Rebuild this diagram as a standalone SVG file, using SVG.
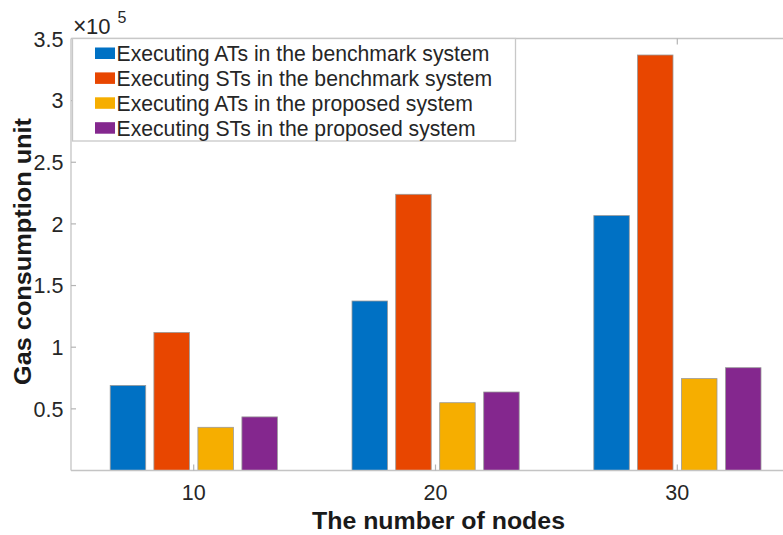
<svg xmlns="http://www.w3.org/2000/svg" width="783" height="535" viewBox="0 0 783 535">
  <style>
    .axis { stroke: #c4c4c4; stroke-width: 1.3; fill: none; }
    .tick { stroke: #b4b4b4; stroke-width: 1.2; }
    .lbl { font-family: "Liberation Sans", Arial, Helvetica, sans-serif; fill: #262626; }
    .ytl { font-size: 21.5px; text-anchor: end; }
    .xtl { font-size: 21.5px; text-anchor: middle; }
    .ttl { font-size: 24px; font-weight: bold; fill: #1a1a1a; }
    .leg { font-size: 21.2px; }
    .bar { stroke: #9a9a9a; stroke-width: 0.8; }
    .s1 { fill: #0071c4; }
    .s2 { fill: #e84600; }
    .s3 { fill: #f6ae00; }
    .s4 { fill: #84278e; }
  </style>
  <rect width="783" height="535" fill="#ffffff"/>

  <!-- bars: groups at x = 193.7, 435.5, 677.3; y(v) = 470.5 - 123.3 v -->
  <g id="bars">
    <g id="group-10">
      <rect class="bar s1" x="110.2" y="385.4" width="35.5" height="85.1"/>
      <rect class="bar s2" x="153.9" y="332.4" width="35.5" height="138.1"/>
      <rect class="bar s3" x="197.9" y="427.3" width="35.5" height="43.2"/>
      <rect class="bar s4" x="241.9" y="416.9" width="35.5" height="53.6"/>
    </g>
    <g id="group-20">
      <rect class="bar s1" x="352.0" y="301.0" width="35.5" height="169.5"/>
      <rect class="bar s2" x="395.7" y="194.3" width="35.5" height="276.2"/>
      <rect class="bar s3" x="439.7" y="402.7" width="35.5" height="67.8"/>
      <rect class="bar s4" x="483.7" y="392.0" width="35.5" height="78.5"/>
    </g>
    <g id="group-30">
      <rect class="bar s1" x="593.8" y="215.6" width="35.5" height="254.9"/>
      <rect class="bar s2" x="637.5" y="55.0" width="35.5" height="415.5"/>
      <rect class="bar s3" x="681.5" y="378.6" width="35.5" height="91.9"/>
      <rect class="bar s4" x="725.5" y="367.7" width="35.5" height="102.8"/>
    </g>
  </g>

  <!-- axes frame and ticks -->
  <g id="axes">
    <line class="axis" x1="71" y1="38.5" x2="783" y2="38.5"/>
    <line class="axis" x1="71" y1="470.5" x2="783" y2="470.5"/>
    <line class="axis" x1="71" y1="38.5" x2="71" y2="470.5"/>
    <g class="tick">
      <line x1="71" y1="408.85" x2="76" y2="408.85"/>
      <line x1="71" y1="347.2" x2="76" y2="347.2"/>
      <line x1="71" y1="285.55" x2="76" y2="285.55"/>
      <line x1="71" y1="223.9" x2="76" y2="223.9"/>
      <line x1="71" y1="162.25" x2="76" y2="162.25"/>
      <line x1="71" y1="100.6" x2="76" y2="100.6"/>
      <line x1="193.7" y1="470.5" x2="193.7" y2="464.5"/>
      <line x1="435.5" y1="470.5" x2="435.5" y2="464.5"/>
      <line x1="677.3" y1="470.5" x2="677.3" y2="464.5"/>
      <line x1="193.7" y1="38.5" x2="193.7" y2="44.5"/>
      <line x1="435.5" y1="38.5" x2="435.5" y2="44.5"/>
      <line x1="677.3" y1="38.5" x2="677.3" y2="44.5"/>
    </g>
  </g>

  <!-- tick labels -->
  <g id="y-ticklabels" class="lbl ytl">
    <text x="63.5" y="416.5">0.5</text>
    <text x="63.5" y="354.8">1</text>
    <text x="63.5" y="293.2">1.5</text>
    <text x="63.5" y="231.5">2</text>
    <text x="63.5" y="169.9">2.5</text>
    <text x="63.5" y="108.2">3</text>
    <text x="63.5" y="46.5">3.5</text>
  </g>
  <!-- axis multiplier: x10 with raised exponent -->
  <g id="exponent" class="lbl">
    <text x="73" y="34" style="font-size:23px">×</text>
    <text x="86" y="34" style="font-size:22px">10</text>
    <text x="117.5" y="23" style="font-size:16px">5</text>
  </g>
  <g id="x-ticklabels" class="lbl xtl">
    <text x="193.7" y="499.5">10</text>
    <text x="435.5" y="499.5">20</text>
    <text x="677.3" y="499.5">30</text>
  </g>

  <!-- axis titles -->
  <text id="x-title" class="lbl ttl" x="312" y="529" textLength="253" lengthAdjust="spacingAndGlyphs">The number of nodes</text>
  <text id="y-title" class="lbl ttl" transform="translate(30.5,385) rotate(-90)" x="0" y="0" textLength="267" lengthAdjust="spacingAndGlyphs">Gas consumption unit</text>

  <!-- legend -->
  <g id="legend">
    <rect x="72.5" y="38.5" width="443" height="102.5" fill="#ffffff" stroke="#c8c8c8" stroke-width="1.3"/>
    <rect class="s1" x="95" y="47.5" width="20" height="11.5"/>
    <rect class="s2" x="95" y="72.4" width="20" height="11.5"/>
    <rect class="s3" x="95" y="97.3" width="20" height="11.5"/>
    <rect class="s4" x="95" y="122.2" width="20" height="11.5"/>
    <g class="lbl leg">
      <text x="116.5" y="60.8">Executing ATs in the benchmark system</text>
      <text x="116.5" y="85.7">Executing STs in the benchmark system</text>
      <text x="116.5" y="110.6">Executing ATs in the proposed system</text>
      <text x="116.5" y="135.5">Executing STs in the proposed system</text>
    </g>
  </g>
</svg>
